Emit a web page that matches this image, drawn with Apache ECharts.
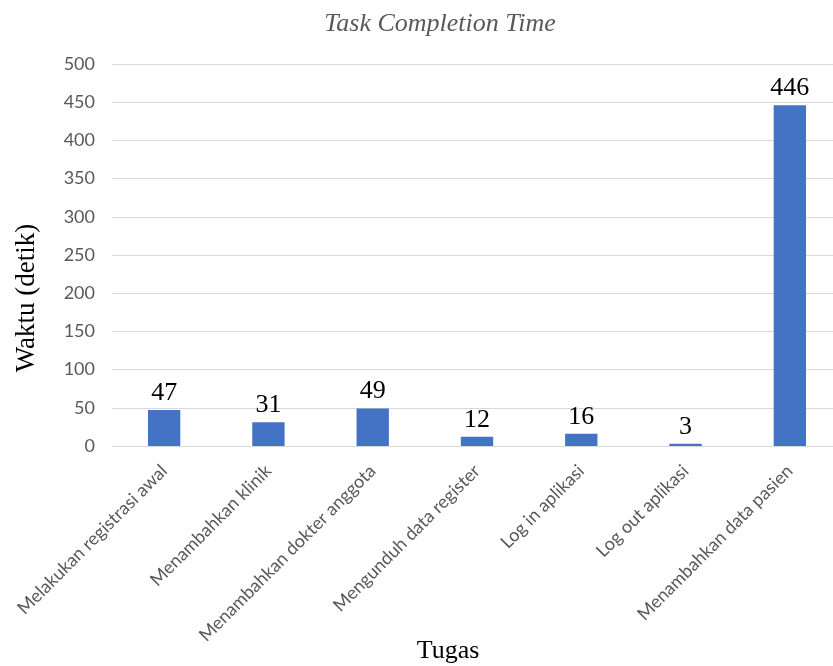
<!DOCTYPE html>
<html>
<head>
<meta charset="utf-8">
<style>
  html, body { margin: 0; padding: 0; background: #ffffff; }
  #chart { width: 833px; height: 666px; }
</style>
<script src="https://cdn.jsdelivr.net/npm/echarts@6/dist/echarts.min.js"></script>
</head>
<body>
<div id="chart"></div>
<script>
// Tasks performed in the usability test and the time each one took (seconds)
const tasks = [
  'Melakukan registrasi awal',
  'Menambahkan klinik',
  'Menambahkan dokter anggota',
  'Mengunduh data register',
  'Log in aplikasi',
  'Log out aplikasi',
  'Menambahkan data pasien'
];
const seconds = [47, 31, 49, 12, 16, 3, 446];
const yTicks = [0, 50, 100, 150, 200, 250, 300, 350, 400, 450, 500];

const chart = echarts.init(document.getElementById('chart'), null, { renderer: 'canvas' });

const serif = '"Liberation Serif", "Times New Roman", serif';
const sans = 'Lato, "Liberation Sans", sans-serif';

chart.setOption({
  animation: false,
  backgroundColor: '#ffffff',
  title: {
    text: 'Task Completion Time',
    left: 435,
    top: 6,
    textAlign: 'center',
    textStyle: {
      fontFamily: serif,
      fontStyle: 'italic',
      fontWeight: 'normal',
      fontSize: 26,
      color: '#595959'
    }
  },
  // the plot area runs a little past the right edge of the canvas
  grid: {
    left: 112,
    top: 64,
    width: 730,
    height: 382,
    outerBoundsMode: 'none',
    containLabel: false
  },
  xAxis: {
    type: 'category',
    data: tasks,
    axisLine: { show: true, lineStyle: { color: '#d9d9d9', width: 1 } },
    axisTick: { show: false },
    axisLabel: {
      interval: 0,
      rotate: 45,
      margin: 22,
      fontFamily: sans,
      fontSize: 18,
      color: '#595959'
    }
  },
  yAxis: {
    type: 'value',
    min: yTicks[0],
    max: yTicks[yTicks.length - 1],
    interval: yTicks[1] - yTicks[0],
    axisLine: { show: false },
    axisTick: { show: false },
    splitLine: { show: true, lineStyle: { color: '#d9d9d9', width: 1 } },
    axisLabel: {
      margin: 17,
      fontFamily: sans,
      fontSize: 18,
      color: '#595959'
    }
  },
  graphic: [
    {
      type: 'text',
      x: 27,
      y: 298,
      rotation: Math.PI / 2,
      style: {
        text: 'Waktu (detik)',
        fontFamily: serif,
        fontSize: 27,
        fill: '#000000',
        align: 'center',
        verticalAlign: 'middle'
      }
    },
    {
      type: 'text',
      x: 448,
      y: 651,
      style: {
        text: 'Tugas',
        fontFamily: serif,
        fontSize: 26,
        fill: '#000000',
        align: 'center',
        verticalAlign: 'middle'
      }
    }
  ],
  series: [
    {
      type: 'bar',
      data: seconds,
      barWidth: '31%',
      itemStyle: { color: '#4472c4' },
      label: {
        show: true,
        position: 'top',
        distance: 4,
        fontFamily: serif,
        fontSize: 26,
        color: '#000000'
      }
    }
  ]
});
</script>
</body>
</html>
